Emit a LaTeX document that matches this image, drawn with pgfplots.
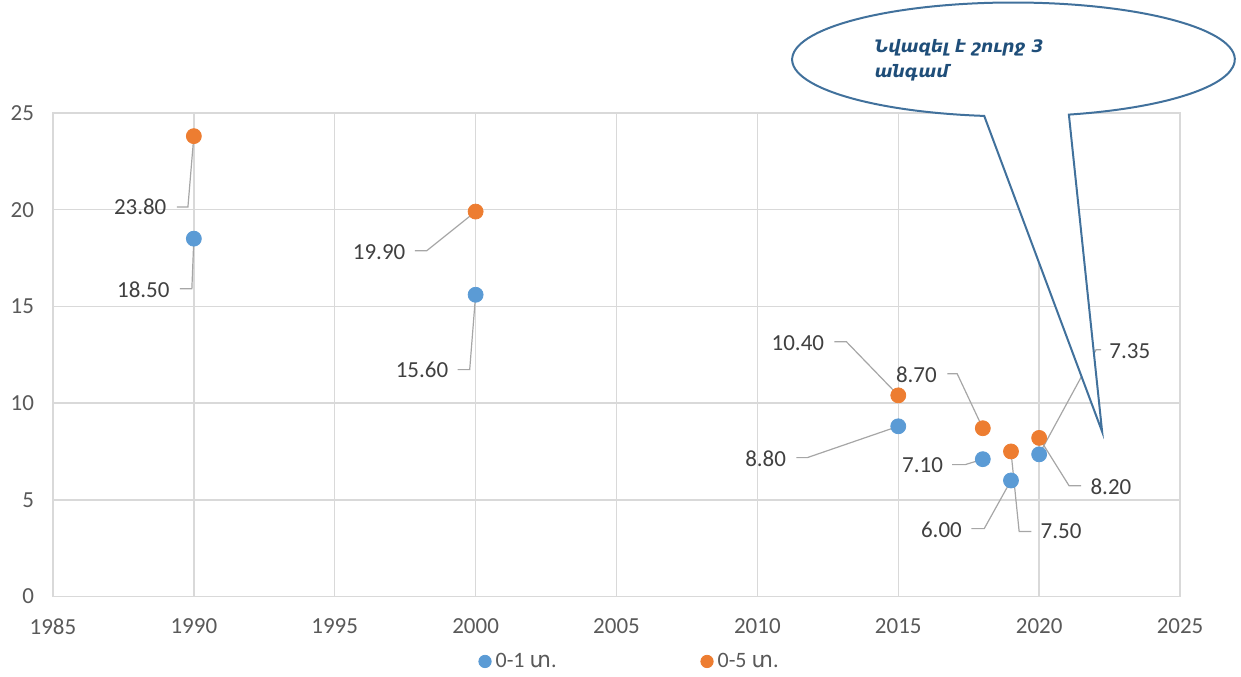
\documentclass[border=0pt]{standalone}
\usepackage{pgfplots}
\pgfplotsset{compat=1.18}
\usepackage{fontspec}
\setmainfont{Carlito}
\newfontfamily\armfont{DejaVu Sans}

\definecolor{ser1}{HTML}{5B9BD5}
\definecolor{ser2}{HTML}{ED7D31}
\definecolor{gridc}{HTML}{D9D9D9}
\definecolor{tickc}{HTML}{595959}
\definecolor{lblc}{HTML}{404040}
\definecolor{leadc}{HTML}{A6A6A6}
\definecolor{callc}{HTML}{41719C}
\definecolor{calltxt}{HTML}{1F4E79}

\begin{document}
\begin{tikzpicture}[
    lead/.style={leadc, line width=0.6pt},
    lbl/.style={lblc, inner sep=0pt, font=\fontsize{11.5}{13}\selectfont},
  ]
\useasboundingbox (-26.5pt,-40pt) rectangle (594.5pt,298.5pt);
\begin{axis}[
    scale only axis,
    width=564pt, height=242pt,
    xmin=1985, xmax=2025,
    ymin=0, ymax=25,
    xtick={1985,1990,...,2025},
    ytick={0,5,...,25},
    grid=major,
    grid style={gridc, line width=0.7pt},
    axis line style={gridc, line width=0.7pt},
    major tick length=0pt,
    tick label style={tickc, font=\fontsize{11.5}{13}\selectfont},
    /pgf/number format/assume math mode=true,
    /pgf/number format/1000 sep={},
    xticklabel style={yshift=-7.5pt},
    yticklabel style={xshift=-6pt},
    legend columns=2,
    legend image code/.code={\fill (0pt,0pt) circle (3.1pt);},
    legend style={at={(0.5,0)}, xshift=7pt, yshift=-32.5pt, anchor=center, draw=none,
      text=tickc, font=\fontsize{11}{13}\selectfont,
      /tikz/every even column/.append style={column sep=70pt}},
  ]

% leader lines
\draw[lead] (1989.40,20.14) -- (1989.79,20.14) -- (1990,23.8);
\draw[lead] (1989.50,15.91) -- (1989.93,15.91) -- (1990,18.5);
\draw[lead] (1997.84,17.87) -- (1998.26,17.87) -- (2000,19.9);
\draw[lead] (1999.36,11.73) -- (1999.79,11.73) -- (2000,15.6);
\draw[lead] (2012.73,13.17) -- (2013.16,13.17) -- (2015,10.4);
\draw[lead] (2016.74,11.52) -- (2017.09,11.52) -- (2018,8.7);
\draw[lead] (2011.38,7.18) -- (2011.77,7.18) -- (2015,8.8);
\draw[lead] (2016.91,6.82) -- (2017.38,6.82) -- (2018,7.1);
\draw[lead] (2017.59,3.51) -- (2018.05,3.51) -- (2019,6.0);
\draw[lead] (2019.72,3.36) -- (2019.29,3.36) -- (2019,7.5);
\draw[lead] (2021.49,5.73) -- (2021.06,5.73) -- (2020,8.2);
\draw[lead] (2022.20,12.76) -- (2022.02,12.76) -- (2020,7.35);

% data labels
\node[lbl, anchor=east] at (1989.04,20.14) {23.80};
\node[lbl, anchor=east] at (1989.15,15.88) {18.50};
\node[lbl, anchor=east] at (1997.52,17.82) {19.90};
\node[lbl, anchor=east] at (1999.04,11.73) {15.60};
\node[lbl, anchor=east] at (2012.38,13.12) {10.40};
\node[lbl, anchor=east] at (2016.38,11.45) {8.70};
\node[lbl, anchor=east] at (2011.03,7.13) {8.80};
\node[lbl, anchor=east] at (2016.60,6.77) {7.10};
\node[lbl, anchor=east] at (2017.27,3.46) {6.00};
\node[lbl, anchor=west] at (2020.04,3.36) {7.50};
\node[lbl, anchor=west] at (2021.81,5.68) {8.20};
\node[lbl, anchor=west] at (2022.48,12.66) {7.35};

\addplot[only marks, mark=*, mark size=3.75pt, color=ser1,
  mark options={draw=ser1, fill=ser1}]
  coordinates {(1990,18.5) (2000,15.6) (2015,8.8) (2018,7.1) (2019,6.0) (2020,7.35)};
\addlegendentry{0-1 {\armfont տ}.}

\addplot[only marks, mark=*, mark size=3.75pt, color=ser2,
  mark options={draw=ser2, fill=ser2}]
  coordinates {(1990,23.8) (2000,19.9) (2015,10.4) (2018,8.7) (2019,7.5) (2020,8.2)};
\addlegendentry{0-5 {\armfont տ}.}
\end{axis}

% callout
\draw[callc, line width=1pt, fill=white]
  (466pt,240.5pt) arc[start angle=262.4, end angle=-75.5, x radius=110.75pt, y radius=28.5pt]
  -- (525pt,82.5pt) -- cycle;
\node[anchor=base west, inner sep=0pt, calltxt,
  font=\armfont\bfseries\itshape\fontsize{8.6}{11}\selectfont] at (411pt,272pt) {Նվազել է շուրջ  3};
\node[anchor=base west, inner sep=0pt, calltxt,
  font=\armfont\bfseries\itshape\fontsize{8.6}{11}\selectfont] at (411pt,259.5pt) {անգամ};
\end{tikzpicture}
\end{document}
